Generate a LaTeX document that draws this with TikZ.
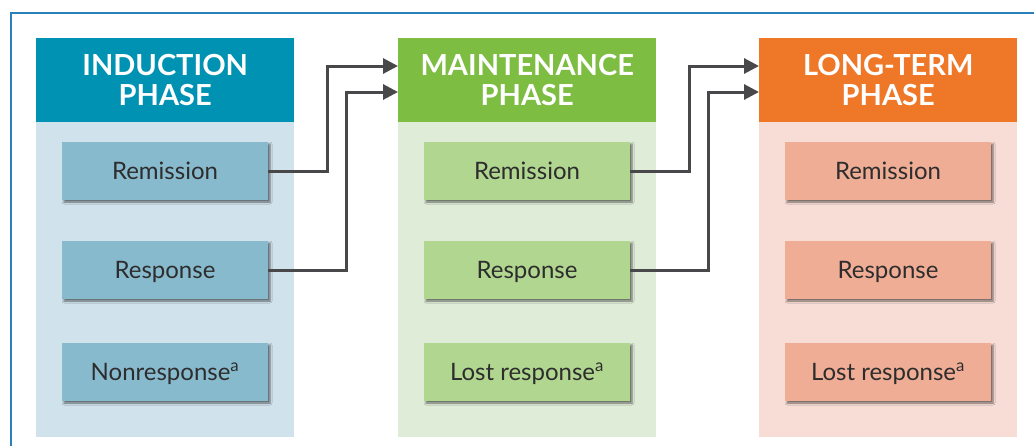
\documentclass[tikz,border=0pt]{standalone}
\usepackage{fontspec}
\setmainfont{Lato}
\usetikzlibrary{arrows.meta,shadows.blur}
\definecolor{framecol}{RGB}{42,128,184}
\definecolor{indhead}{RGB}{0,146,179}
\definecolor{indbody}{RGB}{208,226,236}
\definecolor{indbox}{RGB}{136,186,206}
\definecolor{mainhead}{RGB}{125,189,66}
\definecolor{mainbody}{RGB}{223,236,216}
\definecolor{mainbox}{RGB}{177,214,144}
\definecolor{longhead}{RGB}{238,119,40}
\definecolor{longbody}{RGB}{248,221,214}
\definecolor{longbox}{RGB}{240,173,150}
\definecolor{linkgray}{RGB}{72,72,74}
\definecolor{textgray}{RGB}{45,45,45}
\tikzset{>={Triangle[length=15pt,width=15pt]}}
\tikzset{
  phasehead/.style={fill=#1,text=white,font=\fontsize{29}{30}\selectfont\bfseries,align=center,
    minimum width=258pt,minimum height=84pt,inner sep=0pt,anchor=north west},
  phasebody/.style={fill=#1,minimum width=258pt,minimum height=315pt,inner sep=0pt,anchor=north west},
  outcome/.style={fill=#1,text=textgray,font=\fontsize{24}{28}\selectfont,
    minimum width=206pt,minimum height=58pt,inner sep=0pt,text height=17pt,text depth=0pt,
    blur shadow={shadow xshift=2pt,shadow yshift=-2pt,shadow blur radius=2pt,shadow opacity=55}},
  link/.style={draw=linkgray,line width=3pt,->},
}
\begin{document}
\begin{tikzpicture}[x=1pt,y=-1pt]
\clip (0,0) rectangle (1034,445);
\fill[white] (0,0) rectangle (1034,445);
\draw[framecol,line width=2pt] (11,460) -- (11,13) -- (1050,13);

% induction
\node[phasebody=indbody] (ind-body) at (36,122) {};
\node[phasehead=indhead] (ind-head) at (36,38) {INDUCTION\\PHASE};
\node[outcome=indbox] (ind-rem) at (165,171) {Remission};
\node[outcome=indbox] (ind-resp) at (165,270) {Response};
\node[outcome=indbox] (ind-non) at (165,372) {Nonresponse\textsuperscript{a}};

% maintenance
\node[phasebody=mainbody] (main-body) at (398,122) {};
\node[phasehead=mainhead] (main-head) at (398,38) {MAINTENANCE\\PHASE};
\node[outcome=mainbox] (main-rem) at (527,171) {Remission};
\node[outcome=mainbox] (main-resp) at (527,270) {Response};
\node[outcome=mainbox] (main-lost) at (527,372) {Lost response\textsuperscript{a}};

% long-term
\node[phasebody=longbody] (long-body) at (759,122) {};
\node[phasehead=longhead] (long-head) at (759,38) {LONG-TERM\\PHASE};
\node[outcome=longbox] (long-rem) at (888,171) {Remission};
\node[outcome=longbox] (long-resp) at (888,270) {Response};
\node[outcome=longbox] (long-lost) at (888,372) {Lost response\textsuperscript{a}};

% connectors
\coordinate (main-in1) at (main-head.west |- 0,66);
\coordinate (main-in2) at (main-head.west |- 0,92);
\coordinate (long-in1) at (long-head.west |- 0,66);
\coordinate (long-in2) at (long-head.west |- 0,92);
\draw[link] (ind-rem.east) -| (327,66) -- (main-in1);
\draw[link] (ind-resp.east) -| (346,92) -- (main-in2);
\draw[link] (main-rem.east) -| (689,66) -- (long-in1);
\draw[link] (main-resp.east) -| (708,92) -- (long-in2);
\end{tikzpicture}
\end{document}
